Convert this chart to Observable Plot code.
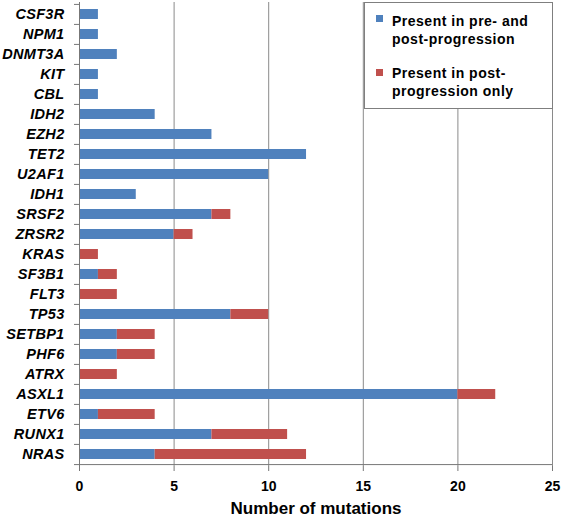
<!DOCTYPE html>
<html><head><meta charset="utf-8">
<script src="https://cdn.jsdelivr.net/npm/d3@7"></script>
<script src="https://cdn.jsdelivr.net/npm/@observablehq/plot@0.6"></script>
<style>
body{margin:0;background:#fff;}
#wrap{position:relative;width:563px;height:518px;font-family:Arial,"Liberation Sans",sans-serif;}
.legend{position:absolute;left:364px;top:2px;width:189px;height:107px;box-sizing:border-box;border:1px solid #7f7f7f;background:#fff;}
.sw{position:absolute;width:7px;height:7px;}
.lt{position:absolute;font-size:14px;font-weight:bold;line-height:18px;letter-spacing:0.5px;color:#000;white-space:nowrap;}
</style></head>
<body><div id="wrap"></div>
<script>
const genes = ["CSF3R","NPM1","DNMT3A","KIT","CBL","IDH2","EZH2","TET2","U2AF1","IDH1","SRSF2","ZRSR2","KRAS","SF3B1","FLT3","TP53","SETBP1","PHF6","ATRX","ASXL1","ETV6","RUNX1","NRAS"];
const prePost  = [1,1,2,1,1,4,7,12,10,3,7,5,0,1,0,8,2,2,0,20,1,7,4];
const postOnly = [0,0,0,0,0,0,0,0,0,0,1,1,1,1,2,2,2,2,2,2,3,4,8];
const seriesNames = ["Present in pre- and post-progression","Present in post-progression only"];
const seriesLines = [["Present in pre- and","post-progression"],["Present in post-","progression only"]];
const seriesColors = ["#4F81BD","#C0504D"];
const xTicks = [0,5,10,15,20,25];
const gridTicks = [5,10,15,20,25];
const xLabel = "Number of mutations";

const data = genes.flatMap((g,i)=>[
  {gene:g, series:seriesNames[0], value:prePost[i]},
  {gene:g, series:seriesNames[1], value:postOnly[i]}
]);

const W=563,H=518,mT=2,mB=52,mL=79,mR=11;
const step=(H-mT-mB)/genes.length;
const lastGene=[genes[genes.length-1]];

const chart = Plot.plot({
  width:W,height:H,marginTop:mT,marginBottom:mB,marginLeft:mL,marginRight:mR,
  style:{fontFamily:"Arial, 'Liberation Sans', sans-serif",color:"#000",background:"#fff",overflow:"visible"},
  x:{domain:[0,25],ticks:xTicks,tickSize:5,tickPadding:10,label:null},
  y:{domain:genes,paddingInner:0.48,paddingOuter:0.24,tickSize:0,tickPadding:15,label:null},
  color:{domain:seriesNames,range:seriesColors},
  marks:[
    Plot.ruleX(gridTicks,{stroke:"#8a8a8a",strokeWidth:1}),
    Plot.barX(data,Plot.stackX({x:"value",y:"gene",fill:"series",order:seriesNames})),
    Plot.ruleX([0],{stroke:"#777",strokeWidth:1}),
    Plot.ruleY(lastGene,{dy:step/2,stroke:"#777",strokeWidth:1}),
    Plot.ruleY(genes,{x1:0,x2:0,insetLeft:-5,dy:-step/2,stroke:"#777"}),
    Plot.ruleY(lastGene,{x1:0,x2:0,insetLeft:-5,dy:step/2,stroke:"#777"}),
    Plot.text([xLabel],{frameAnchor:"bottom",dy:42,lineAnchor:"middle",fontSize:17,fontWeight:"bold",fill:"#000"})
  ]
});

const s=d3.select(chart);
s.selectAll('g[aria-label^="y-axis"] text')
  .attr("font-size","14.5px").attr("font-weight","bold").attr("font-style","italic")
  .style("letter-spacing","0.3px").attr("fill","#000");
s.selectAll('g[aria-label^="x-axis"] text')
  .attr("font-size","14px").attr("font-weight","bold").attr("fill","#000");
s.selectAll('g[aria-label^="x-axis"] line, g[aria-label^="x-axis tick"] path')
  .attr("stroke","#777");

const wrap=document.getElementById("wrap");
wrap.appendChild(chart);
const leg=document.createElement("div");
leg.className="legend";
const swTops=[12,66], txtTops=[8.5,60.5];
seriesNames.forEach((n,i)=>{
  const sw=document.createElement("div");
  sw.className="sw";sw.style.left="11px";sw.style.top=swTops[i]+"px";sw.style.background=seriesColors[i];
  leg.appendChild(sw);
  const t=document.createElement("div");
  t.className="lt";t.style.left="27px";t.style.top=txtTops[i]+"px";
  t.innerHTML=seriesLines[i].join("<br>");
  leg.appendChild(t);
});
wrap.appendChild(leg);
</script></body></html>
